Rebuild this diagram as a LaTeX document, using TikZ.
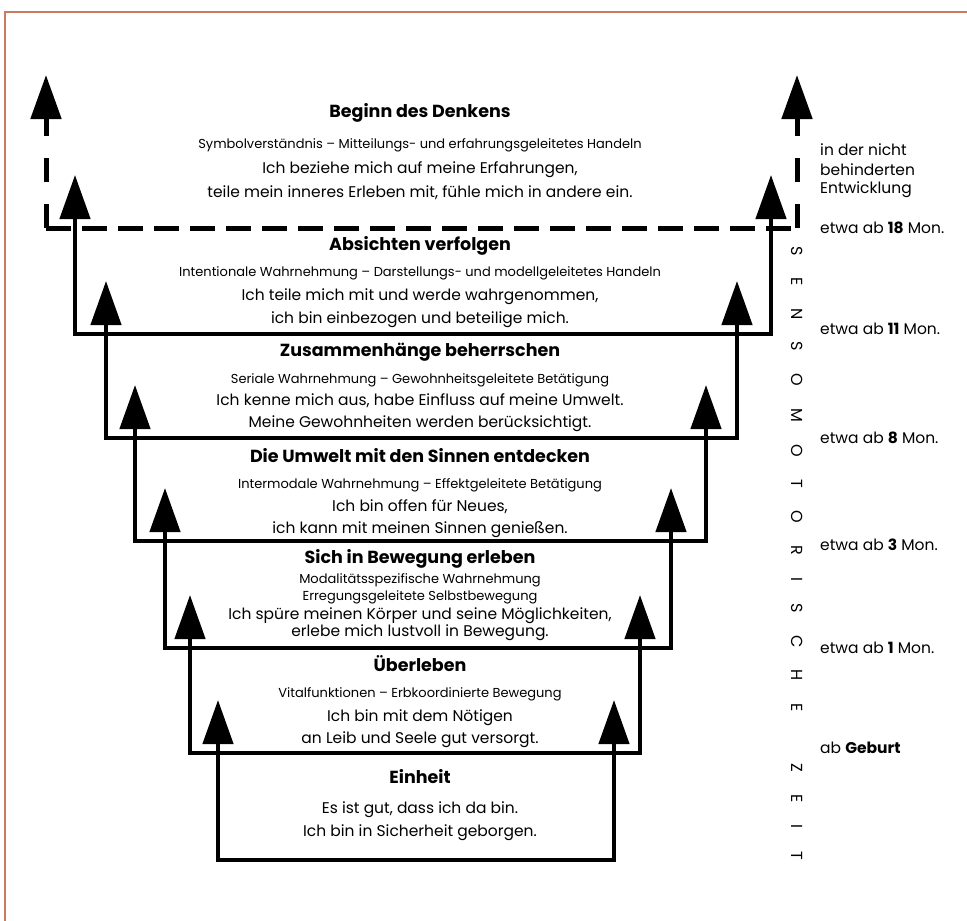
\documentclass[tikz,border=0pt]{standalone}
\usepackage{fontspec}
\setmainfont{Poppins}
\usetikzlibrary{arrows.meta, positioning}
\definecolor{rahmenrot}{RGB}{204,124,94}

\begin{document}
\begin{tikzpicture}[x=1pt, y=-1pt,
	stufe/.style={line width=4.5pt, line join=miter,
		{Triangle[length=44pt, width=30pt]}-{Triangle[length=44pt, width=30pt]}},
	strich/.style={line width=5pt},
	titel/.style={font=\bfseries\fontsize{17.5}{19}\selectfont, text height=1.6ex, text depth=.3ex},
	unter/.style={font=\fontsize{13}{15}\selectfont, text height=1.6ex, text depth=.3ex},
	satz/.style={font=\fontsize{15.5}{17}\selectfont, text height=1.6ex, text depth=.3ex},
	alter/.style={font=\fontsize{15.5}{17}\selectfont, anchor=west, inner sep=0pt},
	]
	
	% -------------------------------------------------------------------------
	% 1. Parameter
	% -------------------------------------------------------------------------
	\def\mx{420}   % Mitte der Texte
	\def\ax{820}   % linker Rand der Altersangaben
	\def\lz{\hspace{22.3pt}} % Abstand der Buchstaben
	\useasboundingbox (0,0) rectangle (967,921);
	
	% Rahmen
	\draw[rahmenrot, line width=2pt] (5,921) -- (5,12) -- (967,12);
	
	% -------------------------------------------------------------------------
	% 2. Oberste Stufe (gestrichelt)
	% -------------------------------------------------------------------------
	\coordinate (dl) at (46,228);
	\coordinate (dr) at (797,228);
	\coordinate (dlt) at (46,75);
	\coordinate (drt) at (797,75);
	\draw[strich, dash pattern=on 25pt off 11pt] (dl) -- (dr);
	\draw[strich, dash pattern=on 24pt off 22pt, -{Triangle[length=44pt, width=30pt]}] (dl) -- (dlt);
	\draw[strich, dash pattern=on 24pt off 22pt, -{Triangle[length=44pt, width=30pt]}] (dr) -- (drt);
	
	% -------------------------------------------------------------------------
	% 3. Stufen (links/rechts/unten/Spitze)
	% -------------------------------------------------------------------------
	\foreach \l/\r/\b/\t in {75/771/334/175, 106/737/438/281, 135/706/541/385,
		165/671/648/488, 190/640/753/595, 218/614/860/700}
	{
		\draw[stufe] (\l,\t) -- (\l,\b) -- (\r,\b) -- (\r,\t);
	}
	
	% -------------------------------------------------------------------------
	% 4. Texte der Stufen
	% -------------------------------------------------------------------------
	\node[titel] (denken) at (\mx,114) {Beginn des Denkens};
	\node[unter] (denken1) at (\mx,145) {Symbolverständnis – Mitteilungs- und erfahrungsgeleitetes Handeln};
	\node[satz] (denken2) at (\mx,170) {Ich beziehe mich auf meine Erfahrungen,};
	\node[satz] (denken3) at (\mx,194) {teile mein inneres Erleben mit, fühle mich in andere ein.};
	
	\node[titel] (absicht) at (\mx,247) {Absichten verfolgen};
	\node[unter] (absicht1) at (\mx,273) {Intentionale Wahrnehmung – Darstellungs- und modellgeleitetes Handeln};
	\node[satz] (absicht2) at (\mx,297) {Ich teile mich mit und werde wahrgenommen,};
	\node[satz] (absicht3) at (\mx,320) {ich bin einbezogen und beteilige mich.};
	
	\node[titel] (zusammen) at (\mx,353) {Zusammenhänge beherrschen};
	\node[unter] (zusammen1) at (\mx,380) {Seriale Wahrnehmung – Gewohnheitsgeleitete Betätigung};
	\node[satz] (zusammen2) at (\mx,402) {Ich kenne mich aus, habe Einfluss auf meine Umwelt.};
	\node[satz] (zusammen3) at (\mx,424) {Meine Gewohnheiten werden berücksichtigt.};
	
	\node[titel] (umwelt) at (\mx,459) {Die Umwelt mit den Sinnen entdecken};
	\node[unter] (umwelt1) at (\mx,485) {Intermodale Wahrnehmung – Effektgeleitete Betätigung};
	\node[satz] (umwelt2) at (\mx,508) {Ich bin offen für Neues,};
	\node[satz] (umwelt3) at (\mx,530) {ich kann mit meinen Sinnen genießen.};
	
	\node[titel] (bewegung) at (\mx,560) {Sich in Bewegung erleben};
	\node[unter] (bewegung1) at (\mx,580) {Modalitätsspezifische Wahrnehmung};
	\node[unter] (bewegung2) at (\mx,597) {Erregungsgeleitete Selbstbewegung};
	\node[satz] (bewegung3) at (\mx,616) {Ich spüre meinen Körper und seine Möglichkeiten,};
	\node[satz] (bewegung4) at (\mx,633) {erlebe mich lustvoll in Bewegung.};
	
	\node[titel] (ueberleben) at (\mx,668) {Überleben};
	\node[unter] (ueberleben1) at (\mx,694) {Vitalfunktionen – Erbkoordinierte Bewegung};
	\node[satz] (ueberleben2) at (\mx,718) {Ich bin mit dem Nötigen};
	\node[satz] (ueberleben3) at (\mx,740) {an Leib und Seele gut versorgt.};
	
	\node[titel] (einheit) at (\mx,780) {Einheit};
	\node[satz] (einheit1) at (\mx,810) {Es ist gut, dass ich da bin.};
	\node[satz] (einheit2) at (\mx,833) {Ich bin in Sicherheit geborgen.};
	
	% -------------------------------------------------------------------------
	% 5. Altersangaben und Zeitachse
	% -------------------------------------------------------------------------
	\node[alter] (normal1) at (\ax,150) {in der nicht};
	\node[alter] (normal2) at (\ax,170) {behinderten};
	\node[alter] (normal3) at (\ax,190) {Entwicklung};
	\node[alter] (mon18) at (\ax,228) {etwa ab \textbf{18} Mon.};
	\node[alter] (mon11) at (\ax,329) {etwa ab \textbf{11} Mon.};
	\node[alter] (mon8) at (\ax,438) {etwa ab \textbf{8} Mon.};
	\node[alter] (mon3) at (\ax,545) {etwa ab \textbf{3} Mon.};
	\node[alter] (mon1) at (\ax,648) {etwa ab \textbf{1} Mon.};
	\node[alter] (geburt) at (\ax,748) {ab \textbf{Geburt}};
	
	\node[rotate=-90, anchor=west, inner sep=0pt, font=\fontsize{16}{18}\selectfont] (zeit) at (797,246)
	{S\lz E\lz N\lz S\lz O\lz M\lz O\lz T\lz O\lz R\lz I\lz S\lz C\lz H\lz E\hspace{52pt}Z\lz E\lz I\lz T};
	
\end{tikzpicture}
\end{document}
